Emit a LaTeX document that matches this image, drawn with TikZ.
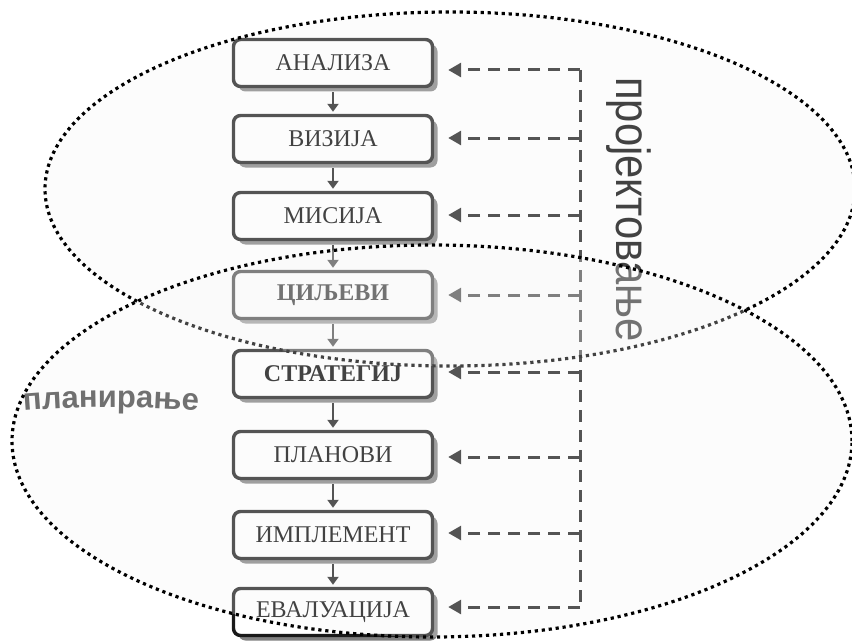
\documentclass[tikz,border=0pt]{standalone}
\usepackage{fontspec}
\setmainfont{Liberation Serif}
\newfontfamily\labelfont{Liberation Sans}
\usetikzlibrary{arrows.meta,shadows,decorations.text}

\tikzset{
  stage/.style={draw=black!90, line width=3.4pt, rounded corners=7pt, fill=white,
    minimum width=199pt, minimum height=47pt, text=black,
    font=\fontsize{24}{24}\selectfont,
    drop shadow={shadow xshift=5pt, shadow yshift=-5pt, fill=black!50, opacity=1}},
  boldstage/.style={stage, font=\fontsize{24}{24}\selectfont\bfseries},
  flow/.style={-{Triangle[length=8pt,width=11pt]}, line width=2pt, black!90},
  loopback/.style={-{Triangle[length=13pt,width=14pt]}, line width=3pt, black!90,
    dash pattern=on 12pt off 8pt},
  zone/.style={line width=3.2pt, dash pattern=on 3.2pt off 3.8pt, fill=black!4,
    fill opacity=0.27, draw opacity=1}
}

\begin{document}
\begin{tikzpicture}[x=1pt, y=-1pt]
    \useasboundingbox (0, 0) rectangle (852, 642);
    % stages
    \node[stage] (analiza) at (333, 63) {АНАЛИЗА};
    \node[stage] (vizija) at (333, 139) {ВИЗИЈА};
    \node[stage] (misija) at (333, 216) {МИСИЈА};
    \node[boldstage] (ciljevi) at (333, 295) {ЦИЉЕВИ};
    \node[boldstage] (strategij) at (333, 374) {СТРАТЕГИЈ};
    \node[stage] (planovi) at (333, 455) {ПЛАНОВИ};
    \node[stage] (implement) at (333, 535) {ИМПЛЕМЕНТ};
    \node[stage] (evaluacija) at (333, 612) {ЕВАЛУАЦИЈА};
    \draw[flow] ([yshift=-4pt]analiza.south) -- ([yshift=2pt]vizija.north);
    \draw[flow] ([yshift=-4pt]vizija.south) -- ([yshift=2pt]misija.north);
    \draw[flow] ([yshift=-4pt]misija.south) -- ([yshift=2pt]ciljevi.north);
    \draw[flow] ([yshift=-4pt]ciljevi.south) -- ([yshift=2pt]strategij.north);
    \draw[flow] ([yshift=-4pt]strategij.south) -- ([yshift=2pt]planovi.north);
    \draw[flow] ([yshift=-4pt]planovi.south) -- ([yshift=2pt]implement.north);
    \draw[flow] ([yshift=-4pt]implement.south) -- ([yshift=2pt]evaluacija.north);
    % feedback bus
    \coordinate (r1) at (580, 70);
    \coordinate (r2) at (580, 138);
    \coordinate (r3) at (580, 215);
    \coordinate (r4) at (580, 295);
    \coordinate (r5) at (580, 372);
    \coordinate (r6) at (580, 457);
    \coordinate (r7) at (580, 533);
    \coordinate (r8) at (580, 607);
    \draw[loopback, -] (r1) -- (r8);
    \draw[loopback] (r1) -- ([xshift=14pt, yshift=-7pt]analiza.east);
    \draw[loopback] (r2) -- ([xshift=14pt, yshift=1pt]vizija.east);
    \draw[loopback] (r3) -- ([xshift=14pt, yshift=1pt]misija.east);
    \draw[loopback] (r4) -- ([xshift=14pt]ciljevi.east);
    \draw[loopback] (r5) -- ([xshift=14pt, yshift=2pt]strategij.east);
    \draw[loopback] (r6) -- ([xshift=14pt, yshift=-2pt]planovi.east);
    \draw[loopback] (r7) -- ([xshift=14pt, yshift=2pt]implement.east);
    \draw[loopback] (r8) -- ([xshift=14pt, yshift=5pt]evaluacija.east);
    % labels
    \node[rotate=-90, anchor=base west, inner sep=0pt, text=black,
      font=\labelfont\fontsize{48}{48}\selectfont] (projekt) at (616, 77)
      {\scalebox{0.87}[1]{пројектовање}};
    \path[decorate, decoration={text along path, text align=center, text color=black!75,
      text={|\labelfont\bfseries\fontsize{31}{31}\selectfont|планирање}}]
      (12, 412) .. controls (70, 406) and (150, 406) .. (210, 412);
    % zones
    \draw[zone] (450, 189) ellipse [x radius=405pt, y radius=177pt];
    \draw[zone] (432, 441) ellipse [x radius=420pt, y radius=196pt];
  \end{tikzpicture}
\end{document}
